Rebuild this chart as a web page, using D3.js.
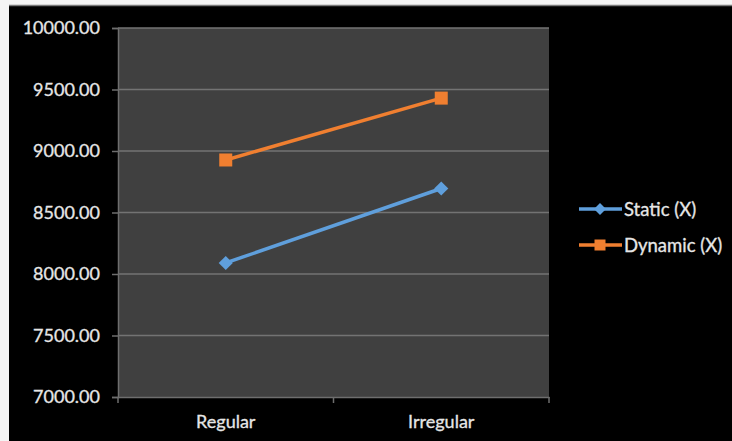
<!DOCTYPE html>
<html>
<head>
<meta charset="utf-8">
<script src="https://cdn.jsdelivr.net/npm/d3@7"></script>
<style>
  html, body { margin: 0; padding: 0; background: #ffffff; }
  svg { display: block; }
  text { font-family: Lato, "Open Sans", sans-serif; }
</style>
</head>
<body>
<svg id="chart" width="732" height="441"></svg>
<script>
// Chart data
const categories = ["Regular", "Irregular"];
const staticValues = [8090, 8695];
const dynamicValues = [8927, 9430];
const seriesNames = ["Static (X)", "Dynamic (X)"];
const yTicks = [7000, 7500, 8000, 8500, 9000, 9500, 10000];

const series = [
  { name: seriesNames[0], values: staticValues, color: "#5f9fdc", marker: "diamond" },
  { name: seriesNames[1], values: dynamicValues, color: "#f07f30", marker: "square" }
];

const svg = d3.select("#chart");
const W = 732, H = 441;

// frame: white margin at top/left, thin grey rule, black canvas
svg.append("rect").attr("width", W).attr("height", H).attr("fill", "#f4f4f4");
svg.append("rect").attr("x", 9).attr("y", 5).attr("width", W - 9).attr("height", H - 5).attr("fill", "#000");
svg.append("line").attr("x1", 9).attr("x2", W).attr("y1", 5.5).attr("y2", 5.5)
  .attr("stroke", "#7a7a7a").attr("stroke-width", 1.5);

const plot = { left: 118, top: 28, right: 549, bottom: 397 };

const x = d3.scaleBand().domain(categories).range([plot.left, plot.right]);
const y = d3.scaleLinear().domain([7000, 10000]).range([plot.bottom, plot.top]);

// plot area
svg.append("rect")
  .attr("x", plot.left).attr("y", plot.top)
  .attr("width", plot.right - plot.left).attr("height", plot.bottom - plot.top)
  .attr("fill", "#404040");

// gridlines
svg.append("g").selectAll("line").data(yTicks.filter(t => t > 7000)).join("line")
  .attr("x1", plot.left).attr("x2", plot.right)
  .attr("y1", d => y(d)).attr("y2", d => y(d))
  .attr("stroke", "#737373").attr("stroke-width", 1.5);

// y axis
const yAxis = svg.append("g")
  .attr("transform", `translate(${plot.left},0)`)
  .call(d3.axisLeft(y).tickValues(yTicks).tickFormat(d3.format(".2f")).tickSize(6).tickPadding(12));
yAxis.select(".domain").attr("stroke", "#6e6e6e").attr("stroke-width", 1.5);
yAxis.selectAll(".tick line").attr("stroke", "#6e6e6e").attr("stroke-width", 1.5);
yAxis.selectAll(".tick text").attr("fill", "#e6e6e6").attr("font-size", 18)
  .attr("stroke", "#e6e6e6").attr("stroke-width", 0.3)
  .style("font-family", "Lato, sans-serif");

// x axis
const xAxis = svg.append("g")
  .attr("transform", `translate(0,${plot.bottom})`)
  .call(d3.axisBottom(x).tickSize(0).tickPadding(18));
xAxis.select(".domain").attr("stroke", "#6e6e6e").attr("stroke-width", 1.5);
xAxis.selectAll(".tick text").attr("fill", "#e6e6e6").attr("font-size", 18)
  .attr("stroke", "#e6e6e6").attr("stroke-width", 0.3)
  .style("font-family", "Lato, sans-serif");
// category boundary ticks
const bounds = [plot.left, plot.left + x.bandwidth(), plot.right];
svg.append("g").selectAll("line").data(bounds).join("line")
  .attr("x1", d => d).attr("x2", d => d)
  .attr("y1", plot.bottom).attr("y2", plot.bottom + 6)
  .attr("stroke", "#6e6e6e").attr("stroke-width", 1.5);

// markers
function drawMarker(g, type, cx, cy, color, size) {
  if (type === "diamond") {
    g.append("path")
      .attr("d", d3.symbol().type(d3.symbolDiamond2).size(size * size * 0.75)())
      .attr("transform", `translate(${cx},${cy})`)
      .attr("fill", color);
  } else {
    g.append("rect")
      .attr("x", cx - size / 2).attr("y", cy - size / 2)
      .attr("width", size).attr("height", size)
      .attr("fill", color);
  }
}

const line = d3.line()
  .x((d, i) => x(categories[i]) + x.bandwidth() / 2)
  .y(d => y(d));

series.forEach(s => {
  const g = svg.append("g");
  g.append("path").datum(s.values)
    .attr("d", line).attr("fill", "none")
    .attr("stroke", s.color).attr("stroke-width", 3.5);
  s.values.forEach((v, i) => {
    drawMarker(g, s.marker, x(categories[i]) + x.bandwidth() / 2, y(v), s.color, 13);
  });
});

// legend
const legend = svg.append("g");
series.forEach((s, i) => {
  const ly = 209 + i * 36;
  legend.append("line")
    .attr("x1", 579).attr("x2", 622).attr("y1", ly).attr("y2", ly)
    .attr("stroke", s.color).attr("stroke-width", 3.5);
  drawMarker(legend, s.marker, 600, ly, s.color, 11);
  legend.append("text")
    .attr("x", 624).attr("y", ly).attr("dy", "0.36em")
    .attr("fill", "#e6e6e6").attr("font-size", 18.5)
    .attr("stroke", "#e6e6e6").attr("stroke-width", 0.3)
    .text(s.name);
});
</script>
</body>
</html>
